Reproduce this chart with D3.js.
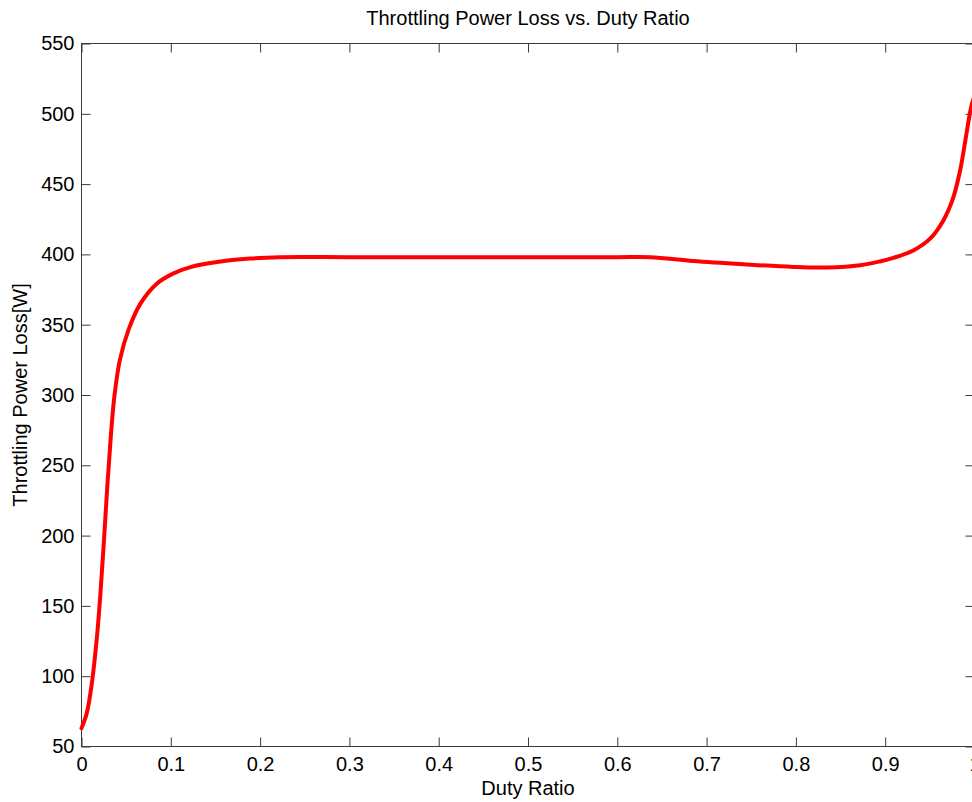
<!DOCTYPE html>
<html>
<head>
<meta charset="utf-8">
<script src="https://cdn.jsdelivr.net/npm/d3@7"></script>
<style>
  html, body { margin: 0; padding: 0; background: #fff; }
  svg { display: block; font-family: "Liberation Sans", Arial, Helvetica, sans-serif; }
  .tick text { fill: #000; font-size: 20px; }
  .tick line { stroke: #3a3a3a; }
</style>
</head>
<body>
<svg id="chart" width="972" height="802"></svg>
<script>
// Duty ratio samples and the throttling power loss at each one [W]
const dutyRatio = [0, 0.006, 0.012, 0.017, 0.021, 0.025, 0.029, 0.033, 0.037, 0.043,
  0.053, 0.066, 0.084, 0.103, 0.122, 0.152, 0.189, 0.222,
  0.3, 0.4, 0.5, 0.6, 0.637, 0.685, 0.741, 0.797, 0.835, 0.872,
  0.894, 0.909, 0.932, 0.950, 0.965, 0.976, 0.984, 0.990, 0.996, 1.0];
const powerLoss = [63, 74, 97, 126, 157, 195, 236, 272, 300, 325,
  347, 365, 379, 386.5, 391, 394.6, 397, 398,
  398, 398, 398, 398, 398, 395.3, 393, 391.1, 390.7, 392.3,
  395, 397.5, 403, 411, 424, 440, 460, 482, 504, 513];

const xTicks = [0, 0.1, 0.2, 0.3, 0.4, 0.5, 0.6, 0.7, 0.8, 0.9, 1];
const yTicks = [50, 100, 150, 200, 250, 300, 350, 400, 450, 500, 550];

const titleText = "Throttling Power Loss vs. Duty Ratio";
const xLabel = "Duty Ratio";
const yLabel = "Throttling Power Loss[W]";

const svg = d3.select("#chart");
const plotLeft = 81.5, plotRight = 974.5, plotTop = 43.5, plotBottom = 746.5;

const x = d3.scaleLinear().domain([0, 1]).range([plotLeft, plotRight]);
const y = d3.scaleLinear().domain([50, 550]).range([plotBottom, plotTop]);
const fmt = d => String(+d.toFixed(1));

// Axes with inward ticks on all four sides
svg.append("g")
  .attr("transform", `translate(0,${plotBottom})`)
  .call(d3.axisBottom(x).tickValues(xTicks).tickFormat(fmt)
    .tickSizeInner(-9).tickSizeOuter(0).tickPadding(10))
  .call(g => g.select(".domain").remove());

svg.append("g")
  .attr("transform", `translate(0,${plotTop})`)
  .call(d3.axisTop(x).tickValues(xTicks).tickFormat("")
    .tickSizeInner(-9).tickSizeOuter(0))
  .call(g => g.select(".domain").remove());

svg.append("g")
  .attr("transform", `translate(${plotLeft},0)`)
  .call(d3.axisLeft(y).tickValues(yTicks)
    .tickSizeInner(-9).tickSizeOuter(0).tickPadding(7))
  .call(g => g.select(".domain").remove());

svg.append("g")
  .attr("transform", `translate(${plotRight},0)`)
  .call(d3.axisRight(y).tickValues(yTicks).tickFormat("")
    .tickSizeInner(-9).tickSizeOuter(0))
  .call(g => g.select(".domain").remove());

svg.selectAll("g").attr("font-family", null).attr("font-size", null);

// Plot box
svg.append("rect")
  .attr("x", plotLeft).attr("y", plotTop)
  .attr("width", plotRight - plotLeft).attr("height", plotBottom - plotTop)
  .attr("fill", "none").attr("stroke", "#3a3a3a").attr("stroke-width", 1);

// Curve
const pts = dutyRatio.map((d, i) => [d, powerLoss[i]]);
svg.append("path")
  .datum(pts)
  .attr("fill", "none")
  .attr("stroke", "#ff0000")
  .attr("stroke-width", 4)
  .attr("stroke-linejoin", "round")
  .attr("stroke-linecap", "round")
  .attr("d", d3.line().x(d => x(d[0])).y(d => y(d[1])).curve(d3.curveCatmullRom.alpha(0.5)));

// Titles
svg.append("text")
  .attr("x", (plotLeft + plotRight) / 2).attr("y", 25)
  .attr("text-anchor", "middle").attr("font-size", 20).attr("fill", "#000")
  .text(titleText);

svg.append("text")
  .attr("x", (plotLeft + plotRight) / 2).attr("y", 795)
  .attr("text-anchor", "middle").attr("font-size", 20).attr("fill", "#000")
  .text(xLabel);

svg.append("text")
  .attr("transform", `translate(27,${(plotTop + plotBottom) / 2}) rotate(-90)`)
  .attr("text-anchor", "middle").attr("font-size", 20).attr("fill", "#000")
  .text(yLabel);
</script>
</body>
</html>
